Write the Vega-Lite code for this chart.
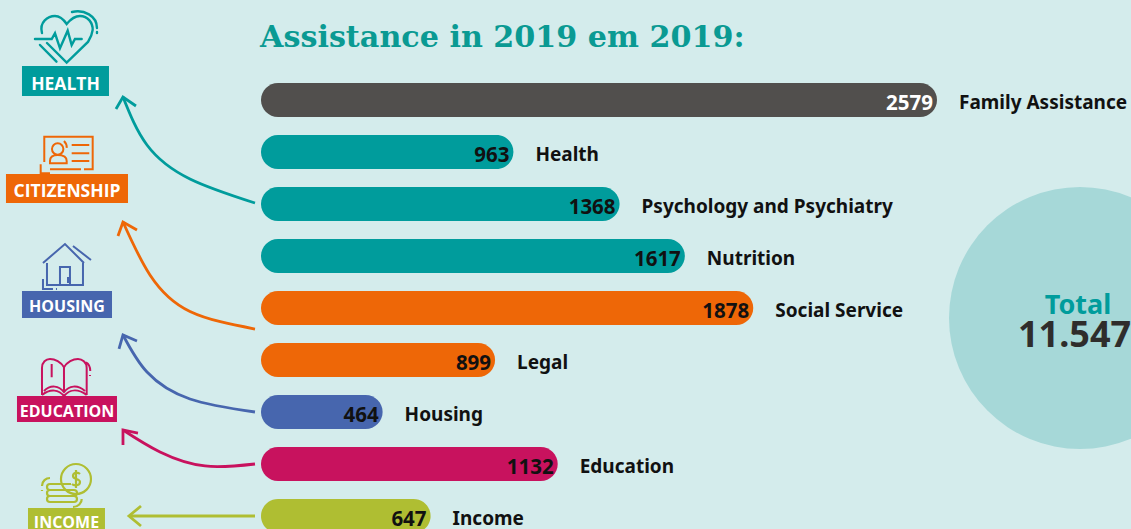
{
"$schema":"https://vega.github.io/schema/vega-lite/v6.json",
"width":1131,"height":529,"padding":0,"autosize":{"type":"none"},
"background":"#d4ecec",
"config":{"view":{"stroke":null}},
"datasets":{
"bars":[
{"label":"Family Assistance","value":2579,"end":2579,"row":0,"cat":"Family"},
{"label":"Health","value":963,"end":963,"row":1,"cat":"Health"},
{"label":"Psychology and Psychiatry","value":1368,"end":1368,"row":2,"cat":"Health"},
{"label":"Nutrition","value":1617,"end":1617,"row":3,"cat":"Health"},
{"label":"Social Service","value":1878,"end":1878,"row":4,"cat":"Citizenship"},
{"label":"Legal","value":899,"end":893,"row":5,"cat":"Citizenship"},
{"label":"Housing","value":464,"end":464,"row":6,"cat":"Housing"},
{"label":"Education","value":1132,"end":1132,"row":7,"cat":"Education"},
{"label":"Income","value":647,"end":647,"row":8,"cat":"Income"}
],
"curves":[
{"cat":"Health","seq":0,"x":-22.9,"row":1.981},{"cat":"Health","seq":1,"x":-270.9,"row":1.519},{"cat":"Health","seq":2,"x":-434.9,"row":0.865},{"cat":"Health","seq":3,"x":-526.5,"row":-0.058},
{"cat":"Citizenship","seq":0,"x":-22.9,"row":4.404},{"cat":"Citizenship","seq":1,"x":-270.9,"row":4.067},{"cat":"Citizenship","seq":2,"x":-423.5,"row":3.365},{"cat":"Citizenship","seq":3,"x":-526.5,"row":2.346},
{"cat":"Housing","seq":0,"x":-22.9,"row":6},{"cat":"Housing","seq":1,"x":-270.9,"row":5.75},{"cat":"Housing","seq":2,"x":-434.9,"row":5.231},{"cat":"Housing","seq":3,"x":-526.5,"row":4.519},
{"cat":"Education","seq":0,"x":-22.9,"row":7},{"cat":"Education","seq":1,"x":-213.6,"row":7.038},{"cat":"Education","seq":2,"x":-385.3,"row":6.769},{"cat":"Education","seq":3,"x":-526.5,"row":6.346},
{"cat":"Income","seq":0,"x":-22.9,"row":8},{"cat":"Income","seq":1,"x":-503.6,"row":8}
],
"heads":[
{"cat":"Health","seq":0,"x":-553.2,"row":0.173},{"cat":"Health","seq":1,"x":-526.5,"row":-0.058},{"cat":"Health","seq":2,"x":-476.9,"row":0.115},
{"cat":"Citizenship","seq":0,"x":-545.6,"row":2.615},{"cat":"Citizenship","seq":1,"x":-526.5,"row":2.346},{"cat":"Citizenship","seq":2,"x":-473.1,"row":2.5},
{"cat":"Housing","seq":0,"x":-541.7,"row":4.788},{"cat":"Housing","seq":1,"x":-526.5,"row":4.519},{"cat":"Housing","seq":2,"x":-473.1,"row":4.635},
{"cat":"Education","seq":0,"x":-526.5,"row":6.635},{"cat":"Education","seq":1,"x":-526.5,"row":6.346},{"cat":"Education","seq":2,"x":-469.3,"row":6.404},
{"cat":"Income","seq":0,"x":-457.8,"row":7.808},{"cat":"Income","seq":1,"x":-503.6,"row":8},{"cat":"Income","seq":2,"x":-457.8,"row":8.192}
],
"boxes":[
{"cat":"Health","name":"HEALTH","x":-911.8,"x2":-579.9,"row":-0.654,"row2":-0.077,"tx":-745.9,"ty":-0.192,"big":true},
{"cat":"Citizenship","name":"CITIZENSHIP","x":-972.9,"x2":-507.4,"row":1.423,"row2":1.981,"tx":-740.1,"ty":1.865,"big":true},
{"cat":"Housing","name":"HOUSING","x":-911.8,"x2":-568.4,"row":3.673,"row2":4.192,"tx":-740.1,"ty":4.077,"big":false},
{"cat":"Education","name":"EDUCATION","x":-930.9,"x2":-549.4,"row":5.692,"row2":6.192,"tx":-740.1,"ty":6.096,"big":false},
{"cat":"Income","name":"INCOME","x":-888.9,"x2":-595.2,"row":7.846,"row2":8.365,"tx":-742,"ty":8.231,"big":false}
],
"icons":[
{"cat":"Health","x":-744,"row":-0.962},
{"cat":"Citizenship","x":-747.8,"row":1.019},
{"cat":"Housing","x":-747.8,"row":3.173},
{"cat":"Education","x":-747.8,"row":5.327},
{"cat":"Income","x":-747.8,"row":7.481}
]
},
"data":{"name":"bars"},
"encoding":{
"x":{"type":"quantitative","scale":{"domain":[-995.7,3319.1],"range":[0,1131],"padding":0,"nice":false,"zero":false},"axis":null},
"y":{"type":"quantitative","scale":{"domain":[-1.9231,8.25],"range":[0,529],"padding":0,"nice":false,"zero":false},"axis":null}
},
"layer":[
{"data":{"values":[{"x":3124.6,"row":4.192}]},"mark":{"type":"point","shape":"circle","filled":true,"size":68644,"color":"#a6d8d8","opacity":1},
 "encoding":{"x":{"field":"x"},"y":{"field":"row"}}},
{"mark":{"type":"bar","orient":"horizontal","size":34,"cornerRadius":17},
 "encoding":{"x":{"field":"end"},"x2":{"datum":0},"y":{"field":"row"},
  "color":{"field":"cat","type":"nominal","legend":null,"scale":{"domain":["Family","Health","Citizenship","Housing","Education","Income"],"range":["#514f4d","#009c9c","#ee6707","#4766ae","#c8125e","#afbe32"]}}}},
{"transform":[{"filter":"datum.row>0"}],"mark":{"type":"text","align":"right","baseline":"alphabetic","dx":-4,"dy":10,"font":"Noto Sans","fontWeight":"bold","fontSize":20.5,"color":"#111111"},
 "encoding":{"x":{"field":"end"},"y":{"field":"row"},"text":{"field":"value","type":"nominal"}}},
{"transform":[{"filter":"datum.row==0"}],"mark":{"type":"text","align":"right","baseline":"alphabetic","dx":-4,"dy":10,"font":"Noto Sans","fontWeight":"bold","fontSize":20.5,"color":"#ffffff"},
 "encoding":{"x":{"field":"end"},"y":{"field":"row"},"text":{"field":"value","type":"nominal"}}},
{"mark":{"type":"text","align":"left","baseline":"alphabetic","dx":22,"dy":9,"font":"Noto Sans","fontWeight":"bold","fontSize":19,"color":"#111111"},
 "encoding":{"x":{"field":"end"},"y":{"field":"row"},"text":{"field":"label"}}},
{"data":{"name":"curves"},"mark":{"type":"line","interpolate":"natural","strokeWidth":2.8},
 "encoding":{"x":{"field":"x"},"y":{"field":"row"},"order":{"field":"seq","type":"quantitative"},"color":{"field":"cat","type":"nominal","legend":null}}},
{"data":{"name":"heads"},"mark":{"type":"line","interpolate":"linear","strokeWidth":2.8},
 "encoding":{"x":{"field":"x"},"y":{"field":"row"},"order":{"field":"seq","type":"quantitative"},"color":{"field":"cat","type":"nominal","legend":null}}},
{"data":{"name":"boxes"},"mark":{"type":"rect"},
 "encoding":{"x":{"field":"x"},"x2":{"field":"x2"},"y":{"field":"row"},"y2":{"field":"row2"},"color":{"field":"cat","type":"nominal","legend":null}}},
{"data":{"name":"boxes"},"transform":[{"filter":"datum.big"}],"mark":{"type":"text","align":"center","baseline":"alphabetic","font":"Open Sans","fontWeight":"bold","fontSize":17.5,"color":"#ffffff"},
 "encoding":{"x":{"field":"tx"},"y":{"field":"ty"},"text":{"field":"name"}}},
{"data":{"name":"boxes"},"transform":[{"filter":"!datum.big"}],"mark":{"type":"text","align":"center","baseline":"alphabetic","font":"Open Sans","fontWeight":"bold","fontSize":16,"color":"#ffffff"},
 "encoding":{"x":{"field":"tx"},"y":{"field":"ty"},"text":{"field":"name"}}},
{"data":{"name":"icons"},"transform":[{"filter":"datum.cat=='Health'"}],"mark":{"type":"point","filled":false,"size":4,"stroke":"#009c9c","strokeWidth":2.4,"opacity":1,"strokeCap":"round",
 "shape":"M-24,-17 C-27,-28 -18,-34 -11,-34 C-6,-34 -2,-30 0.7,-26 C4,-30 8,-34 14,-34 C22,-34 27,-27 26.7,-20 C26,-14 24,-11 22,-8 L0.7,12.7 L-19,-7 M-26,-5 L-9.5,11.7 M-31,-11 L-14.3,-11 L-11,-16.7 L-6,-1.7 L1.7,-19.3 L5.7,-5 L9,-11 L15.7,-11 M6,-38 C18,-41 31,-34 31,-22 M31,-18 L31,-17"},
 "encoding":{"x":{"field":"x"},"y":{"field":"row"}}},
{"data":{"name":"icons"},"transform":[{"filter":"datum.cat=='Citizenship'"}],"mark":{"type":"point","filled":false,"size":4,"stroke":"#ee6707","strokeWidth":2,"opacity":1,
 "shape":"M-20.7,9 L-20.7,-16.3 L27.7,-16.3 L27.7,16.3 L19,16.3 M16,16.3 L-15,16.3 M-24.3,11.3 L-24.3,20.3 L-15,20.3 M-13,-4 A5.7,5.7 0 1 1 -1.6,-4 A5.7,5.7 0 1 1 -13,-4 M-15,10.3 L-15,8 C-15,3 -11,2 -7.3,2 C-3,2 1.7,3 1.7,8 L1.7,10.3 Z M6.7,-8 L24.3,-8 M6.7,0.3 L24.3,0.3 M6.7,8 L24.3,8 M-1,-12 C1,-10 2,-7.5 1.7,-5"},
 "encoding":{"x":{"field":"x"},"y":{"field":"row"}}},
{"data":{"name":"icons"},"transform":[{"filter":"datum.cat=='Housing'"}],"mark":{"type":"point","filled":false,"size":4,"stroke":"#4766ae","strokeWidth":2,"opacity":1,
 "shape":"M-22,-2 L0,-21 L19,-2 M-18,-2 L-18,20 L18,20 L18,-2 M-5,20 L-5,2 L5,2 L5,20 M3,12 L3,18 M8,-19 L26,-5 M-22,14 L-22,24 L-12,24 M-9,24 L-8,24"},
 "encoding":{"x":{"field":"x"},"y":{"field":"row"}}},
{"data":{"name":"icons"},"transform":[{"filter":"datum.cat=='Education'"}],"mark":{"type":"point","filled":false,"size":4,"stroke":"#c8125e","strokeWidth":2,"opacity":1,
 "shape":"M-1,-9.7 C-4,-15 -10,-18 -15,-18 C-19,-18 -23,-15 -23,-9 L-23,18 M-1,-9.7 C2,-15 8,-18 13,-18 C17,-18 21.7,-15 21.7,-9 L21.7,18 M-1,-9.7 L-1,15 M-21,14 C-14,7 -6,9 -1,15 C4,9 12,7 20,14 M-23,18 C-14,11 -6,13 -1,19 C4,13 12,11 21.7,18 M-13.3,-13 L-13.3,0.3 M21,-14.7 C24,-13 25.3,-10 25.3,-6 M25,-2 L25,-1"},
 "encoding":{"x":{"field":"x"},"y":{"field":"row"}}},
{"data":{"name":"icons"},"transform":[{"filter":"datum.cat=='Income'"}],"mark":{"type":"point","filled":false,"size":4,"stroke":"#afbe32","strokeWidth":2.2,"opacity":1,
 "shape":"M-4,-10 A15,15 0 1 1 11,5 A15,15 0 0 1 -4,-10 M15,-15 C13,-17 8,-17 8,-13 C8,-9 15,-11 15,-7 C15,-3 9,-3 7,-5 M11,-19 L11,-1 M-15,-5 L6,-5 M-15,-5 A3,3 0 0 0 -15,1 L9,1 M-15,1 A3,3 0 0 0 -15,7 L9,7 A3,3 0 0 0 9,1 M-15,7 A3,3 0 0 0 -15,13 L9,13 A3,3 0 0 0 9,7 M-15,-11 C-19,-11 -23,-8 -23,-3 M-23,1 L-23,2 M16.7,10 C17,14 13,18 8,18"},
 "encoding":{"x":{"field":"x"},"y":{"field":"row"}}},
{"data":{"values":[{"x":-3.8,"row":-1.019,"t":"Assistance in 2019 em 2019:"}]},"mark":{"type":"text","align":"left","baseline":"alphabetic","font":"DejaVu Serif","fontWeight":"bold","fontSize":30.2,"color":"#0a9a93"},
 "encoding":{"x":{"field":"x"},"y":{"field":"row"},"text":{"field":"t"}}},
{"data":{"values":[{"x":3117,"row":4.115,"t":"Total"}]},"mark":{"type":"text","align":"center","baseline":"alphabetic","font":"Noto Sans","fontWeight":"bold","fontSize":27,"color":"#009c9c"},
 "encoding":{"x":{"field":"x"},"y":{"field":"row"},"text":{"field":"t"}}},
{"data":{"values":[{"x":2888,"row":4.75,"t":"11.547"}]},"mark":{"type":"text","align":"left","baseline":"alphabetic","font":"Noto Sans","fontWeight":"bold","fontSize":36,"color":"#2f2d2c"},
 "encoding":{"x":{"field":"x"},"y":{"field":"row"},"text":{"field":"t"}}}
]
}
